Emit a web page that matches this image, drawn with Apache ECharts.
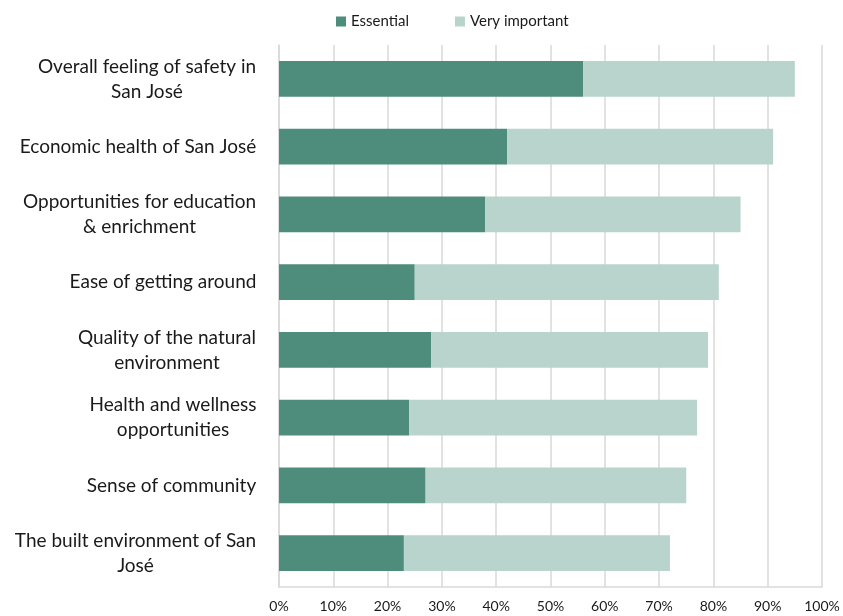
<!DOCTYPE html>
<html>
<head>
<meta charset="utf-8">
<script src="https://cdn.jsdelivr.net/npm/echarts@6/dist/echarts.min.js"></script>
<style>html,body{margin:0;padding:0;background:#fff}#c{width:843px;height:616px}</style>
</head>
<body>
<div id="c"></div>
<script>
const categories = [
  "Overall feeling of safety in\nSan José",
  "Economic health of San José",
  "Opportunities for education\n& enrichment",
  "Ease of getting around",
  "Quality of the natural\nenvironment",
  "Health and wellness\nopportunities",
  "Sense of community",
  "The built environment of San\nJosé"
];
const essential = [56, 42, 38, 25, 28, 24, 27, 23];
const veryImportant = [39, 49, 47, 56, 51, 53, 48, 49];
const xTicks = [0, 10, 20, 30, 40, 50, 60, 70, 80, 90, 100];

const FONT = 'Lato, "Open Sans", sans-serif';
const LABEL_SIZE = 19;

// Measure lines so multi-line labels are centered within their block
const cv = document.createElement('canvas').getContext('2d');
cv.font = LABEL_SIZE + 'px ' + FONT;
const rich = {};
const labelKeys = {};
categories.forEach((c, i) => {
  const lines = c.split('\n');
  const w = Math.ceil(Math.max(...lines.map(l => cv.measureText(l).width))) + 1;
  const key = 'r' + i;
  rich[key] = { width: w, align: 'center', fontSize: LABEL_SIZE, fontFamily: FONT, color: '#1a1a1a', lineHeight: 25 };
  labelKeys[c] = key;
});

const chart = echarts.init(document.getElementById('c'));
chart.setOption({
  animation: false,
  legend: {
    left: 331, top: 9,
    itemWidth: 10, itemHeight: 10, itemGap: 46,
    icon: 'rect',
    textStyle: { fontFamily: FONT, fontSize: 15, color: '#1a1a1a' },
    data: ['Essential', 'Very important']
  },
  grid: { left: 279, right: 21, top: 45, bottom: 29, containLabel: false },
  xAxis: {
    type: 'value', min: 0, max: 100, interval: 10,
    axisLabel: { formatter: '{value}%', fontFamily: FONT, fontSize: 14, color: '#1a1a1a', margin: 12 },
    axisLine: { show: true, lineStyle: { color: '#d9d9d9', width: 1.5 } },
    axisTick: { show: false },
    splitLine: { show: true, lineStyle: { color: '#d9d9d9', width: 1.5 } }
  },
  yAxis: {
    type: 'category', inverse: true, data: categories,
    axisLine: { show: true, lineStyle: { color: '#d9d9d9', width: 1.5 } },
    axisTick: { show: false },
    axisLabel: {
      margin: 22, align: 'right',
      formatter: (v) => v.split('\n').map(l => '{' + labelKeys[v] + '|' + l + '}').join('\n'),
      rich: rich
    }
  },
  series: [
    { name: 'Essential', type: 'bar', stack: 'a', data: essential, barCategoryGap: '47%',
      itemStyle: { color: '#4e8c7b' } },
    { name: 'Very important', type: 'bar', stack: 'a', data: veryImportant,
      itemStyle: { color: '#b9d4cc' } }
  ]
});
</script>
</body>
</html>
